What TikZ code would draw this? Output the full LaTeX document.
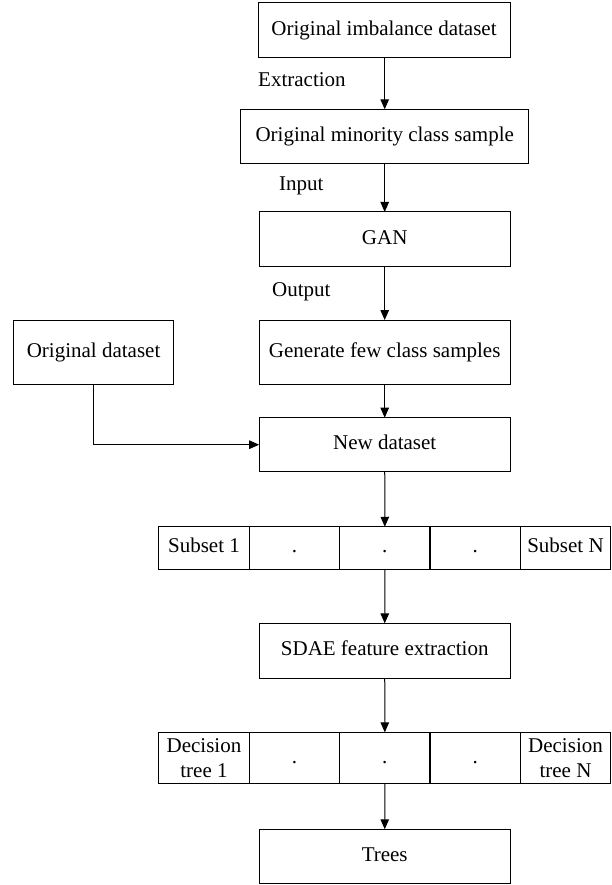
\documentclass[tikz,border=0pt]{standalone}
\usepackage{fontspec}
\setmainfont{Liberation Serif}
\usetikzlibrary{arrows.meta}
\begin{document}
\begin{tikzpicture}[x=1pt,y=-1pt,
  font=\fontsize{21}{25}\selectfont,
  box/.style={draw,line width=1pt,inner sep=0pt,outer sep=0pt,align=center,text height=14pt,text depth=4pt},
  cell/.style={draw,line width=1pt,inner sep=0pt,outer sep=0pt,align=center,minimum width=90.4pt},
  onel/.style={text height=14pt,text depth=4pt},
  lbl/.style={inner sep=0pt,anchor=west},
  arr/.style={line width=1pt,-{Triangle[length=10pt,width=8.5pt]}}]
\useasboundingbox (0,0) rectangle (612,885);
% main boxes
\node[box,minimum width=252pt,minimum height=55pt] (b1) at (384,30.5) {Original imbalance dataset};
\node[box,minimum width=288pt,minimum height=54pt] (b2) at (384.7,136.3) {Original minority class sample};
\node[box,minimum width=251pt,minimum height=54pt] (gan) at (384.7,239) {GAN};
\node[box,minimum width=251pt,minimum height=64.5pt] (gen) at (384.7,352.3) {Generate few class samples};
\node[box,minimum width=160pt,minimum height=64.5pt] (od) at (93.6,352.3) {Original dataset};
\node[box,minimum width=251pt,minimum height=54pt] (nd) at (384.7,444.7) {New dataset};
% subset row
\foreach \i/\x/\t in {1/204/Subset 1,2/294.5/.,3/384.85/.,4/475.15/.,5/565.5/Subset N}{
  \node[cell,onel,minimum height=42.3pt] (s\i) at (\x,547.9) {\t};
}
\node[box,minimum width=251pt,minimum height=54.7pt] (sdae) at (384.7,650.7) {SDAE feature extraction};
% decision row
\node[cell,minimum height=51.5pt] (d1) at (204,758.1) {Decision\\tree 1};
\foreach \i/\x in {2/294.5,3/384.85,4/475.15}{
  \node[cell,onel,minimum height=51.5pt] (d\i) at (\x,758.1) {.};
}
\node[cell,minimum height=51.5pt] (d5) at (565.5,758.1) {Decision\\tree N};
\node[box,minimum width=251pt,minimum height=54.7pt] (trees) at (384.7,856.6) {Trees};
% labels
\node[lbl] (lext) at (258,80) {Extraction};
\node[lbl] (linp) at (279,186) {Input};
\node[lbl] (lout) at (272,292) {Output};
% connectors
\draw[arr] (b1.south -| b2.north) -- (b2.north);
\draw[arr] (b2) -- (gan);
\draw[arr] (gan) -- (gen);
\draw[arr] (gen) -- (nd);
\draw[arr] (od.south) |- (nd.west);
\draw[arr] (nd) -- (s3);
\draw[arr] (s3) -- (sdae);
\draw[arr] (sdae) -- (d3);
\draw[arr] (d3) -- (trees);
\end{tikzpicture}
\end{document}
